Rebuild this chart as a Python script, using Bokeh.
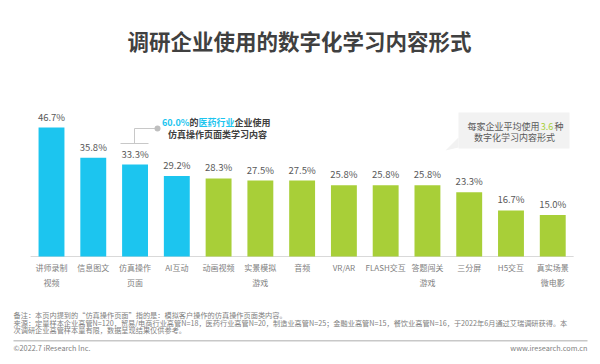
from bokeh.plotting import figure
from bokeh.models import Range1d, ColumnDataSource
from bokeh.core.properties import value
from bokeh.embed import file_html
from bokeh.resources import INLINE

# ---- data ----
categories = ["讲师录制\n视频", "信息图文", "仿真操作\n页面", "AI互动", "动画视频",
              "实景模拟\n游戏", "音频", "VR/AR", "FLASH交互", "答题闯关\n游戏",
              "三分屏", "H5交互", "真实场景\n微电影"]
values = [46.7, 35.8, 33.3, 29.2, 28.3, 27.5, 27.5, 25.8, 25.8, 25.8, 23.3, 16.7, 15.0]
groups = ["blue"] * 4 + ["green"] * 9
value_labels = [f"{v:.1f}%" for v in values]

title_text = "调研企业使用的数字化学习内容形式"
note_lines = [
    "备注：本页内提到的“仿真操作页面”指的是：模拟客户操作的仿真操作页面类内容。",
    "来源：定量样本企业高管N=120，贸易/电商行业高管N=18，医药行业高管N=20，制造业高管N=25；金融业高管N=15，餐饮业高管N=16，于2022年6月通过艾瑞调研获得。本",
    "次调研企业高管样本量有限，数据呈现结果仅供参考。",
]

BLUE = "#1cc5ef"
GREEN = "#a8cf38"
FONT = value("Noto Sans CJK SC")
DARK = "#404040"
GRAY = "#595959"
LIGHT = "#808080"

n = len(categories)
idx = list(range(n))
colors = [BLUE if g == "blue" else GREEN for g in groups]
line1 = [c.split("\n")[0] for c in categories]
line2 = [c.split("\n")[1] if "\n" in c else "" for c in categories]
src = ColumnDataSource(dict(x=idx, val=values, color=colors, lab=value_labels,
                            l1=line1, l2=line2, zero=[0] * n))

W, H = 600, 364
# frame covers the whole canvas; bars use index x scale and percent y scale
p = figure(width=W, height=H, output_backend="svg", toolbar_location=None,
           x_range=Range1d(-1.221, 13.143), y_range=Range1d(-39.13, 92.75),
           min_border=0)
p.outline_line_color = None
p.background_fill_color = "white"
p.border_fill_color = "white"
p.xgrid.visible = False
p.ygrid.visible = False
p.xaxis.visible = False
p.yaxis.visible = False

# pixel-coordinate ranges (page coordinates) for annotations
p.extra_x_ranges = {"px": Range1d(0, W)}
p.extra_y_ranges = {"px": Range1d(H, 0)}

# baseline
p.segment(x0=[-0.5], y0=[0], x1=[n - 0.5], y1=[0], line_color="#d9d9d9", line_width=1)

p.vbar(x="x", top="val", width=0.62, color="color", line_color=None, source=src)
p.text(x="x", y="val", text="lab", source=src, text_align="center", text_baseline="bottom",
       y_offset=-4, text_font_size="9.5px", text_color=GRAY, text_font=FONT)
p.text(x="x", y="zero", text="l1", source=src, text_align="center", text_baseline="middle",
       y_offset=11.5, text_font_size="8px", text_color=LIGHT, text_font=FONT)
p.text(x="x", y="zero", text="l2", source=src, text_align="center", text_baseline="middle",
       y_offset=26.5, text_font_size="8px", text_color=LIGHT, text_font=FONT)


def lab(x, y, text, size, color, align="left", bold=False):
    p.text(x=[x], y=[y], text=[text], x_range_name="px", y_range_name="px",
           text_font=FONT, text_font_size=size, text_color=color,
           text_align=align, text_baseline="middle",
           text_font_style="bold" if bold else "normal")


# title
lab(299, 40, title_text, "21.5px", DARK, align="center", bold=True)

# annotation 1 with leader
p.line(x=[157, 134, 134], y=[128, 128, 143], x_range_name="px", y_range_name="px",
       line_color="#c8c8c8", line_width=1)
p.line(x=[120, 148], y=[143, 143], x_range_name="px", y_range_name="px",
       line_color="#c8c8c8", line_width=1)
p.scatter(x=[157], y=[128], size=6, x_range_name="px", y_range_name="px",
          color="#bfbfbf", line_color=None)
lab(189, 122, "60.0%", "9px", BLUE, align="right", bold=True)
lab(198, 122, "的", "9px", DARK, align="right", bold=True)
lab(234, 122, "医药行业", "9px", BLUE, align="right", bold=True)
lab(270, 122, "企业使用", "9px", DARK, align="right", bold=True)
lab(217, 133.5, "仿真操作页面类学习内容", "9px", DARK, align="center", bold=True)

# annotation 2: speech bubble
p.quad(left=[458], right=[569], bottom=[148], top=[112], x_range_name="px", y_range_name="px",
       fill_color="#f2f2f2", line_color=None)
p.patch(x=[458, 458, 445], y=[137, 147, 150], x_range_name="px", y_range_name="px",
        fill_color="#f2f2f2", line_color=None)
lab(539, 126, "每家企业平均使用", "9px", GRAY, align="right")
lab(546.5, 126, "3.6", "9px", GREEN, align="center")
lab(563, 126, "种", "9px", GRAY, align="right")
lab(514, 137, "数字化学习内容形式", "9px", GRAY, align="center")

# footer
for i, t in enumerate(note_lines):
    lab(13, 314.5 + 7.6 * i, t, "7.2px", LIGHT)
p.quad(left=[13], right=[587], top=[339.5], bottom=[341], x_range_name="px",
       y_range_name="px", fill_color="#c8c8c8", line_color=None)
lab(13, 347, "©2022.7 iResearch Inc.", "7.3px", LIGHT)
lab(587, 347, "www.iresearch.com.cn", "7.3px", LIGHT, align="right")

open("out.html", "w").write(file_html(p, INLINE))
